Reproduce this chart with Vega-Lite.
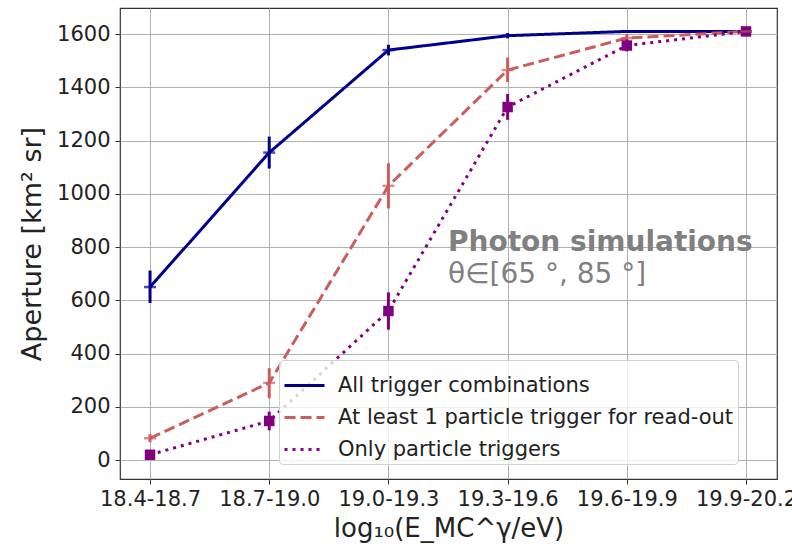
{
  "$schema": "https://vega.github.io/schema/vega-lite/v6.json",
  "autosize": {"type": "none"},
  "width": 657,
  "height": 471,
  "padding": {"left": 120, "top": 8, "right": 15, "bottom": 71},
  "background": "white",
  "config": {
    "font": "DejaVu Sans",
    "view": {"stroke": "#333333", "strokeWidth": 1.2},
    "axis": {
      "grid": true,
      "gridColor": "#b0b0b0",
      "gridWidth": 1,
      "domain": false,
      "tickColor": "#333333",
      "tickSize": 5,
      "labelColor": "#222222",
      "titleColor": "#222222",
      "labelFont": "DejaVu Sans",
      "titleFont": "DejaVu Sans",
      "titleFontWeight": "normal"
    }
  },
  "data": {
    "values": [
      {"bin": "18.4-18.7", "i": 0, "series": "All trigger combinations", "v": 650, "lo": 590, "hi": 712},
      {"bin": "18.7-19.0", "i": 1, "series": "All trigger combinations", "v": 1155, "lo": 1095, "hi": 1215},
      {"bin": "19.0-19.3", "i": 2, "series": "All trigger combinations", "v": 1540, "lo": 1520, "hi": 1560},
      {"bin": "19.3-19.6", "i": 3, "series": "All trigger combinations", "v": 1594, "lo": 1584, "hi": 1604},
      {"bin": "19.6-19.9", "i": 4, "series": "All trigger combinations", "v": 1610, "lo": 1605, "hi": 1615},
      {"bin": "19.9-20.2", "i": 5, "series": "All trigger combinations", "v": 1610, "lo": 1606, "hi": 1614},
      {"bin": "18.4-18.7", "i": 0, "series": "At least 1 particle trigger for read-out", "v": 82, "lo": 67, "hi": 97},
      {"bin": "18.7-19.0", "i": 1, "series": "At least 1 particle trigger for read-out", "v": 290, "lo": 232, "hi": 345},
      {"bin": "19.0-19.3", "i": 2, "series": "At least 1 particle trigger for read-out", "v": 1030, "lo": 945, "hi": 1115},
      {"bin": "19.3-19.6", "i": 3, "series": "At least 1 particle trigger for read-out", "v": 1465, "lo": 1420, "hi": 1512},
      {"bin": "19.6-19.9", "i": 4, "series": "At least 1 particle trigger for read-out", "v": 1585, "lo": 1570, "hi": 1600},
      {"bin": "19.9-20.2", "i": 5, "series": "At least 1 particle trigger for read-out", "v": 1610, "lo": 1605, "hi": 1615},
      {"bin": "18.4-18.7", "i": 0, "series": "Only particle triggers", "v": 20, "lo": 12, "hi": 28},
      {"bin": "18.7-19.0", "i": 1, "series": "Only particle triggers", "v": 147, "lo": 112, "hi": 182},
      {"bin": "19.0-19.3", "i": 2, "series": "Only particle triggers", "v": 560, "lo": 490, "hi": 630},
      {"bin": "19.3-19.6", "i": 3, "series": "Only particle triggers", "v": 1326, "lo": 1278, "hi": 1375},
      {"bin": "19.6-19.9", "i": 4, "series": "Only particle triggers", "v": 1557, "lo": 1535, "hi": 1580},
      {"bin": "19.9-20.2", "i": 5, "series": "Only particle triggers", "v": 1610, "lo": 1605, "hi": 1615}
    ]
  },
  "encoding": {
    "x": {
      "field": "i",
      "type": "quantitative",
      "scale": {"domain": [-0.252, 5.26], "nice": false, "zero": false},
      "axis": {
        "values": [0, 1, 2, 3, 4, 5],
        "labelExpr": "['18.4-18.7','18.7-19.0','19.0-19.3','19.3-19.6','19.6-19.9','19.9-20.2'][datum.value]",
        "labelFontSize": 21,
        "labelPadding": 4,
        "labelFlush": false,
        "labelOverlap": false,
        "title": "log₁₀(E_MC^γ/eV)",
        "titleFontSize": 26,
        "titlePadding": 6
      }
    },
    "y": {
      "field": "v",
      "type": "quantitative",
      "scale": {"domain": [-71, 1698], "nice": false, "zero": false},
      "axis": {
        "values": [0, 200, 400, 600, 800, 1000, 1200, 1400, 1600],
        "format": "d",
        "labelFontSize": 21,
        "labelPadding": 5,
        "title": "Aperture [km² sr]",
        "titleFontSize": 27,
        "titlePadding": 10
      }
    },
    "color": {
      "field": "series",
      "type": "nominal",
      "scale": {
        "domain": ["All trigger combinations", "At least 1 particle trigger for read-out", "Only particle triggers"],
        "range": ["#00008b", "#cd5c5c", "#800080"]
      },
      "legend": {
        "title": null,
        "orient": "none",
        "legendX": 159,
        "legendY": 352,
        "labelFontSize": 21,
        "labelColor": "#222222",
        "labelFont": "DejaVu Sans",
        "symbolType": "stroke",
        "symbolSize": 1600,
        "symbolStrokeWidth": 3,
        "labelOffset": 12,
        "rowPadding": 0,
        "padding": 4,
        "fillColor": "rgba(255,255,255,0.8)",
        "strokeColor": "#d0d0d0",
        "cornerRadius": 4,
        "labelLimit": 500
      }
    }
  },
  "layer": [
    {
      "mark": {"type": "line", "strokeWidth": 3},
      "encoding": {
        "strokeDash": {
          "field": "series",
          "type": "nominal",
          "scale": {
            "domain": ["All trigger combinations", "At least 1 particle trigger for read-out", "Only particle triggers"],
            "range": [[1, 0], [11, 5], [3, 5]]
          },
          "legend": {
            "title": null,
            "orient": "none",
            "legendX": 159,
            "legendY": 352,
            "labelFontSize": 21,
            "symbolType": "stroke",
            "symbolSize": 1600,
            "symbolStrokeWidth": 3,
            "labelOffset": 12,
            "rowPadding": 0,
            "padding": 4,
            "fillColor": "rgba(255,255,255,0.8)",
            "strokeColor": "#d0d0d0",
            "cornerRadius": 4,
            "labelLimit": 500
          }
        }
      }
    },
    {
      "mark": {"type": "rule", "strokeWidth": 3},
      "encoding": {
        "y": {"field": "lo", "type": "quantitative"},
        "y2": {"field": "hi"}
      }
    },
    {
      "transform": [{"filter": "datum.series === 'Only particle triggers'"}],
      "mark": {"type": "square", "size": 110, "opacity": 1, "filled": true}
    },
    {
      "transform": [{"filter": "datum.series !== 'Only particle triggers'"}],
      "mark": {"type": "tick", "orient": "horizontal", "size": 12, "thickness": 2.5}
    },
    {
      "transform": [{"filter": "datum.i === 0 && datum.series === 'All trigger combinations'"}],
      "mark": {"type": "text", "align": "left", "baseline": "middle", "fontSize": 28, "fontWeight": "bold", "font": "DejaVu Sans"},
      "encoding": {
        "x": {"datum": 2.5, "type": "quantitative"},
        "y": {"datum": 815, "type": "quantitative"},
        "text": {"value": "Photon simulations"},
        "color": {"value": "#808080"}
      }
    },
    {
      "transform": [{"filter": "datum.i === 0 && datum.series === 'All trigger combinations'"}],
      "mark": {"type": "text", "align": "left", "baseline": "middle", "fontSize": 28, "font": "DejaVu Sans"},
      "encoding": {
        "x": {"datum": 2.5, "type": "quantitative"},
        "y": {"datum": 695, "type": "quantitative"},
        "text": {"value": "θ∈[65 °, 85 °]"},
        "color": {"value": "#808080"}
      }
    }
  ]
}
